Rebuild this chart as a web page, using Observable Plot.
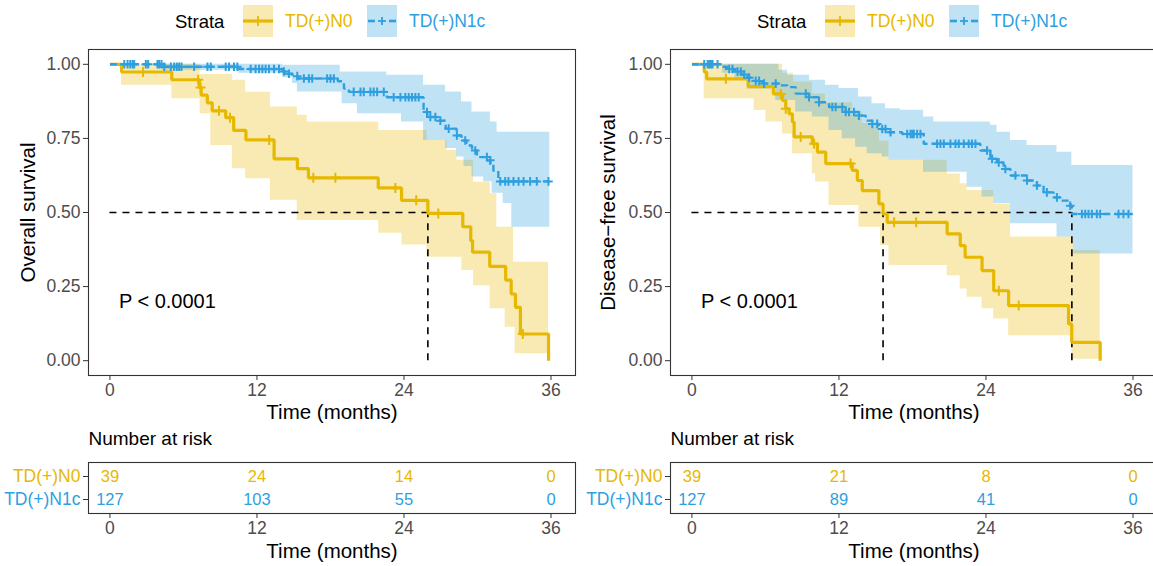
<!DOCTYPE html>
<html><head><meta charset="utf-8">
<script src="https://cdn.jsdelivr.net/npm/d3@7"></script>
<script src="https://cdn.jsdelivr.net/npm/@observablehq/plot@0.6"></script>
<style>
html,body{margin:0;padding:0;background:#fff;}
#root{position:relative;width:1153px;height:566px;overflow:hidden;font-family:"Liberation Sans",Arial,sans-serif;}
#root svg{position:absolute;}
</style></head><body><div id="root"></div>
<script>
// ---------- data ----------
const groups = ["TD(+)N0", "TD(+)N1c"];
const colors = ["#E7B800", "#2E9FDF"];
const xTicks = [0, 12, 24, 36];
const yTicks = [0, 0.25, 0.5, 0.75, 1];

// Overall survival, TD(+)N0: [time, survival]
const osN0Surv = [[0,1],[0.95,0.974],[5.05,0.948],[7.3,0.922],[7.45,0.896],[7.95,0.87],[8.35,0.843],[9.45,0.82],[10.1,0.777],[11.1,0.745],[13.4,0.681],[15.3,0.648],[16.2,0.617],[21.9,0.583],[23.8,0.541],[25.95,0.497],[28.8,0.452],[29.45,0.405],[29.6,0.366],[31.0,0.318],[32.3,0.272],[32.75,0.225],[33.1,0.18],[33.5,0.09],[35.8,0]];
const osN0Lower = [[0,1],[0.95,0.929],[5.05,0.884],[7.36,0.833],[8.23,0.726],[9.99,0.648],[11.08,0.614],[13.1,0.541],[15.29,0.473],[21.94,0.43],[23.84,0.39],[25.88,0.349],[28.73,0.304],[29.68,0.253],[31.04,0.175],[32.26,0.113],[33.07,0.023],[35.8,0.023]];
const osN0Upper = [[0,1],[7.36,0.966],[9.99,0.946],[11.08,0.906],[13.1,0.856],[15.29,0.828],[16.1,0.805],[21.94,0.777],[25.88,0.743],[27.51,0.709],[28.32,0.676],[29.68,0.602],[31.04,0.563],[31.58,0.45],[32.94,0.332],[35.8,0.332]];
const osN0Censor = [2.7,7.2,7.4,8.9,9.8,13.0,16.6,18.4,23.3,25.0,26.8,33.7];

// Overall survival, TD(+)N1c
const osN1cSurv = [[0,1],[4.3,0.992],[10.5,0.984],[14.1,0.976],[14.5,0.968],[14.9,0.96],[15.3,0.952],[18.6,0.943],[19.1,0.918],[19.5,0.907],[22.6,0.889],[25.6,0.839],[25.9,0.822],[26.7,0.81],[27.4,0.783],[28.3,0.76],[28.7,0.743],[29.1,0.726],[29.55,0.709],[29.95,0.687],[30.8,0.676],[31.05,0.664],[31.3,0.641],[31.7,0.605],[35.9,0.605]];
const osN1cLower = [[0,1],[4.3,0.98],[10.5,0.97],[14.1,0.955],[14.9,0.935],[15.3,0.907],[18.95,0.867],[20.2,0.833],[23.8,0.805],[25.6,0.743],[27.4,0.716],[28.3,0.687],[28.9,0.655],[29.55,0.62],[30.5,0.604],[31.2,0.565],[32.1,0.53],[32.8,0.45],[35.9,0.45]];
const osN1cUpper = [[0,1],[14.1,0.997],[18.8,0.974],[22.6,0.963],[25.6,0.929],[27.4,0.907],[28.7,0.873],[29.55,0.839],[31.05,0.805],[31.6,0.771],[35.9,0.771]];
const osN1cCensor = [1.17,1.44,1.66,1.85,1.98,2.93,3.12,3.88,4.02,4.21,4.43,4.97,5.24,5.46,5.65,5.84,6.87,7.96,8.23,9.45,9.72,10.13,10.4,11.49,11.89,12.17,12.44,12.71,12.98,13.39,13.8,14.2,14.61,15.29,15.83,16.24,16.51,17.73,18.0,18.28,19.9,20.45,20.72,21.26,21.53,21.81,22.35,23.16,23.71,24.11,24.39,24.66,24.93,25.2,25.88,26.15,26.56,26.97,27.65,28.32,29.0,29.82,30.77,31.04,31.86,32.26,32.53,32.94,33.35,33.76,34.3,34.84,35.79];

// Disease-free survival, TD(+)N0
const dfsN0Surv = [[0,1],[1.0,0.974],[1.2,0.951],[4.6,0.925],[6.65,0.9],[7.39,0.878],[7.66,0.85],[7.93,0.833],[8.2,0.805],[8.34,0.755],[9.83,0.732],[10.24,0.704],[10.92,0.665],[13.09,0.642],[13.5,0.608],[13.9,0.574],[15.26,0.529],[15.6,0.495],[15.94,0.467],[20.83,0.428],[21.9,0.388],[22.3,0.349],[23.68,0.304],[24.63,0.236],[25.85,0.186],[30.74,0.124],[31.0,0.062],[33.32,0]];
const dfsN0Lower = [[0,1],[1.0,0.884],[5.08,0.844],[6.03,0.805],[7.39,0.765],[8.2,0.698],[9.83,0.631],[10.1,0.603],[11.19,0.524],[13.63,0.45],[15.4,0.389],[16.08,0.321],[20.83,0.287],[21.9,0.242],[22.46,0.214],[23.68,0.175],[24.63,0.141],[25.85,0.084],[31.0,0.005],[33.32,0.005]];
const dfsN0Upper = [[0,1],[7.39,0.97],[8.3,0.94],[9.83,0.9],[10.9,0.87],[13.1,0.84],[13.9,0.8],[15.3,0.74],[16.08,0.676],[20.83,0.63],[21.9,0.597],[22.46,0.574],[24.63,0.529],[26.0,0.417],[31.15,0.372],[33.32,0.372]];
const dfsN0Censor = [2.77,7.25,7.66,8.88,9.97,12.95,16.5,18.3,25.05,26.67];

// Disease-free survival, TD(+)N1c
const dfsN1cSurv = [[0,1],[2.5,0.992],[2.9,0.984],[3.45,0.976],[4.0,0.966],[4.54,0.955],[4.94,0.944],[5.76,0.935],[7.12,0.929],[7.8,0.923],[8.47,0.901],[9.56,0.889],[10.37,0.872],[11.19,0.856],[12.55,0.839],[13.63,0.827],[14.18,0.81],[14.72,0.799],[15.26,0.782],[16.08,0.771],[17.16,0.765],[18.92,0.732],[23.54,0.709],[24.36,0.681],[24.9,0.669],[25.44,0.647],[26.0,0.625],[27.35,0.608],[28.16,0.591],[28.7,0.568],[29.52,0.551],[30.06,0.54],[30.88,0.523],[31.01,0.495],[36.0,0.495]];
const dfsN1cLower = [[0,1],[2.5,0.97],[3.5,0.945],[4.5,0.917],[6.84,0.878],[8.47,0.839],[9.83,0.822],[11.19,0.777],[12.27,0.749],[13.36,0.72],[14.31,0.698],[15.53,0.687],[16.08,0.676],[18.9,0.636],[22.46,0.585],[23.68,0.552],[24.63,0.53],[26.0,0.462],[29.8,0.417],[31.15,0.36],[36.0,0.36]];
const dfsN1cUpper = [[0,1],[7.1,0.98],[7.8,0.963],[9.6,0.946],[10.9,0.929],[12.0,0.918],[13.6,0.89],[14.7,0.867],[15.8,0.85],[17.0,0.845],[18.9,0.822],[19.74,0.805],[24.36,0.794],[24.9,0.771],[26.0,0.743],[27.35,0.726],[29.79,0.703],[31.01,0.659],[36.0,0.659]];
const dfsN1cCensor = [1.0,1.28,1.41,1.55,1.68,2.09,3.04,3.31,3.72,3.99,4.26,4.67,5.21,5.48,5.89,6.84,9.29,9.56,10.37,11.46,11.73,12.27,12.55,12.82,13.22,13.63,14.72,15.12,15.53,15.8,16.21,17.57,17.84,17.98,18.11,18.38,18.65,20.01,20.28,20.56,21.1,21.51,21.78,22.19,22.59,22.86,23.14,24.09,24.5,25.04,25.58,26.4,27.35,28.16,28.97,29.79,30.88,31.83,32.1,32.37,32.64,33.05,33.32,34.82,35.22,35.63];

// Numbers at risk at 0, 12, 24, 36 months
const osRiskN0 = [39, 24, 14, 0];
const osRiskN1c = [127, 103, 55, 0];
const dfsRiskN0 = [39, 21, 8, 0];
const dfsRiskN1c = [127, 89, 41, 0];

const pText = "P < 0.0001";

// ---------- helpers ----------
const FONT = '"Liberation Sans", Arial, sans-serif';
const xDom = [-1.75, 38];
function stepAt(arr, t) {
  let v = arr[0][1];
  for (const [tt, s] of arr) { if (tt <= t + 1e-9) v = s; else break; }
  return v;
}
function bandRows(lower, upper) {
  const ts = Array.from(new Set([...lower.map(d => d[0]), ...upper.map(d => d[0])])).sort((a, b) => a - b);
  return ts.map(t => ({t, lo: stepAt(lower, t), hi: stepAt(upper, t)}));
}
const plusSym = {
  draw(ctx, size) {
    const r = Math.sqrt(size / Math.PI);
    ctx.moveTo(-r, 0); ctx.lineTo(r, 0);
    ctx.moveTo(0, -r); ctx.lineTo(0, r);
  }
};
const baseStyle = {fontFamily: FONT, fontSize: "17.5px", background: "none", overflow: "visible"};

function kmPlot(p) {
  const medians = p.series.map(s => { const f = s.surv.find(d => d[1] <= 0.5); return f ? f[0] : null; }).filter(d => d != null);
  const maxMed = d3.max(medians);
  const marks = [];
  for (const s of p.series) marks.push(Plot.areaY(bandRows(s.lower, s.upper), {x: "t", y1: "lo", y2: "hi", curve: "step-after", fill: s.color, fillOpacity: 0.3}));
  marks.push(Plot.ruleY([0.5], {x1: 0, x2: maxMed, stroke: "black", strokeWidth: 1.6, strokeDasharray: "7,6"}));
  marks.push(Plot.ruleX(medians, {x: d => d, y1: 0, y2: 0.5, stroke: "black", strokeWidth: 1.6, strokeDasharray: "7,6"}));
  for (const s of p.series) marks.push(Plot.line(s.surv, {x: d => d[0], y: d => d[1], curve: "step-after", stroke: s.color, strokeWidth: s.width, strokeDasharray: s.dash, strokeLinejoin: "miter", strokeLinecap: "butt"}));
  for (const s of p.series) marks.push(Plot.dot(s.censor.map(t => ({t, v: stepAt(s.surv, t)})), {x: "t", y: "v", symbol: plusSym, r: s.r, stroke: s.color, strokeWidth: 2, fill: "none"}));
  marks.push(Plot.text([p.pText], {x: 0.73, y: 0.2, textAnchor: "start", fontSize: 20, fill: "black"}));
  marks.push(Plot.frame({stroke: "#333", strokeWidth: 1.1}));
  marks.push(Plot.axisX({ticks: xTicks, tickSize: 5, tickPadding: 3, stroke: "#333", fill: "#4d4d4d", label: null}));
  marks.push(Plot.axisY({ticks: yTicks, tickFormat: d3.format(".2f"), tickSize: 5, tickPadding: 3, stroke: "#333", fill: "#4d4d4d", label: null}));
  marks.push(Plot.text(["Time (months)"], {frameAnchor: "bottom", dy: 37, lineAnchor: "middle", textAnchor: "middle", fontSize: 20.5, fill: "black"}));
  marks.push(Plot.text([p.yLabel], {frameAnchor: "left", dx: p.yLabelDx, rotate: -90, textAnchor: "middle", lineAnchor: "middle", fontSize: 20.5, fill: "black"}));
  return Plot.plot({
    width: 580, height: 430, marginLeft: 88, marginRight: 5, marginTop: 49, marginBottom: 55,
    x: {domain: xDom}, y: {domain: [-0.05, 1.05]},
    style: baseStyle, marks
  });
}

function riskPlot(risk) {
  const marks = [Plot.frame({stroke: "#333", strokeWidth: 1.1})];
  groups.forEach((g, i) => {
    marks.push(Plot.text(xTicks, {x: d => d, y: () => g, text: (d, j) => String(risk[i][j]), fill: colors[i], fontSize: 16.5}));
    marks.push(Plot.text([g], {y: d => d, frameAnchor: "left", dx: -8, textAnchor: "end", lineAnchor: "middle", fill: colors[i], fontSize: 17.5}));
  });
  marks.push(Plot.axisY({tickSize: 5, tickFormat: () => "", stroke: "#333", label: null}));
  marks.push(Plot.axisX({ticks: xTicks, tickSize: 5, tickPadding: 3, stroke: "#333", fill: "#4d4d4d", label: null}));
  marks.push(Plot.text(["Time (months)"], {frameAnchor: "bottom", dy: 38, lineAnchor: "middle", textAnchor: "middle", fontSize: 20.5, fill: "black"}));
  marks.push(Plot.text(["Number at risk"], {frameAnchor: "top-left", dy: -24, textAnchor: "start", lineAnchor: "middle", fontSize: 19, fill: "black"}));
  return Plot.plot({
    width: 580, height: 146, marginLeft: 88, marginRight: 5, marginTop: 42, marginBottom: 53,
    x: {domain: xDom}, y: {type: "point", domain: groups, padding: 0.6},
    style: baseStyle, marks
  });
}

function legendSvg(offs) {
  const [g, b] = colors;
  let s = "";
  for (const o of offs) {
    s += `<text x="${175+o}" y="21" dominant-baseline="central" font-size="18.5" fill="black">Strata</text>
    <rect x="${243+o}" y="5" width="30" height="32" fill="${g}" fill-opacity="0.3"/>
    <line x1="${243+o}" x2="${273+o}" y1="21" y2="21" stroke="${g}" stroke-width="3.2"/>
    <line x1="${258+o}" x2="${258+o}" y1="16" y2="26" stroke="${g}" stroke-width="1.8"/>
    <text x="${285+o}" y="21" dominant-baseline="central" font-size="17.5" fill="${g}">${groups[0]}</text>
    <rect x="${367+o}" y="5" width="30" height="32" fill="${b}" fill-opacity="0.3"/>
    <line x1="${368+o}" x2="${375+o}" y1="21" y2="21" stroke="${b}" stroke-width="2.6"/>
    <line x1="${378+o}" x2="${386+o}" y1="21" y2="21" stroke="${b}" stroke-width="1.8"/>
    <line x1="${382+o}" x2="${382+o}" y1="17" y2="25" stroke="${b}" stroke-width="1.8"/>
    <line x1="${389+o}" x2="${396+o}" y1="21" y2="21" stroke="${b}" stroke-width="2.6"/>
    <text x="${409+o}" y="21" dominant-baseline="central" font-size="17.5" fill="${b}">${groups[1]}</text>`;
  }
  return `<svg width="1153" height="45" style="left:0;top:0" font-family='${FONT}'>${s}</svg>`;
}

// ---------- assemble ----------
const root = document.getElementById("root");
const OFF = 582;
function place(el, left, top) { el.style.left = left + "px"; el.style.top = top + "px"; root.appendChild(el); }

const leftKM = kmPlot({
  yLabel: "Overall survival", yLabelDx: -60, pText,
  series: [
    {surv: osN0Surv, lower: osN0Lower, upper: osN0Upper, censor: osN0Censor, color: colors[0], width: 3.2, dash: null, r: 5},
    {surv: osN1cSurv, lower: osN1cLower, upper: osN1cUpper, censor: osN1cCensor, color: colors[1], width: 2.4, dash: "7,4", r: 4.3}
  ]
});
const rightKM = kmPlot({
  yLabel: "Disease\u2212free survival", yLabelDx: -62, pText,
  series: [
    {surv: dfsN0Surv, lower: dfsN0Lower, upper: dfsN0Upper, censor: dfsN0Censor, color: colors[0], width: 3.2, dash: null, r: 5},
    {surv: dfsN1cSurv, lower: dfsN1cLower, upper: dfsN1cUpper, censor: dfsN1cCensor, color: colors[1], width: 2.4, dash: "7,4", r: 4.3}
  ]
});
place(leftKM, 0, 0);
place(rightKM, OFF, 0);
place(riskPlot([osRiskN0, osRiskN1c]), 0, 420);
place(riskPlot([dfsRiskN0, dfsRiskN1c]), OFF, 420);
root.insertAdjacentHTML("beforeend", legendSvg([0, OFF]));
</script></body></html>
